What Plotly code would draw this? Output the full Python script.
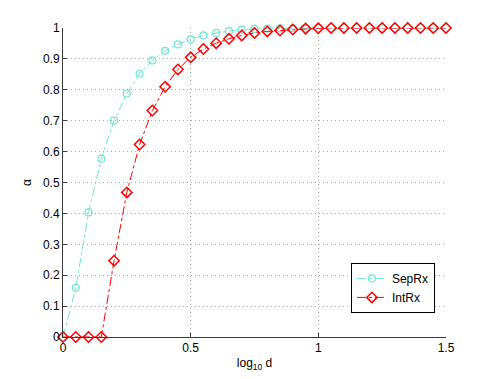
import plotly.graph_objects as go

x = [round(0.05 * i, 2) for i in range(31)]

sep_rx = [0, 0.159, 0.403, 0.577, 0.700, 0.788, 0.852, 0.895, 0.926, 0.947,
          0.963, 0.976, 0.984, 0.990, 0.995, 0.997, 0.998, 0.999, 0.999, 1.0,
          1.0, 1.0, 1.0, 1.0, 1.0, 1.0, 1.0, 1.0, 1.0, 1.0, 1.0]
int_rx = [0, 0, 0, 0, 0.247, 0.468, 0.623, 0.733, 0.810, 0.866,
          0.905, 0.932, 0.951, 0.965, 0.976, 0.984, 0.989, 0.992, 0.995, 0.998,
          0.999, 1.0, 1.0, 1.0, 1.0, 1.0, 1.0, 1.0, 1.0, 1.0, 1.0]

x_ticks = [0, 0.5, 1, 1.5]
x_labels = ["0", "0.5", "1", "1.5"]
y_ticks = [round(0.1 * i, 1) for i in range(11)]
y_labels = ["0", "0.1", "0.2", "0.3", "0.4", "0.5", "0.6", "0.7", "0.8", "0.9", "1"]

fig = go.Figure()
fig.add_scatter(x=x, y=sep_rx, name="SepRx", mode="lines+markers", cliponaxis=False,
                line=dict(color="rgb(110,230,210)", width=1, dash="dashdot"),
                marker=dict(symbol="circle-open", size=7, color="rgb(110,230,210)",
                            line=dict(width=1.2)))
fig.add_scatter(x=x, y=int_rx, name="IntRx", mode="lines+markers", cliponaxis=False,
                line=dict(color="red", width=1, dash="dashdot"),
                marker=dict(symbol="diamond-open", size=8, color="red",
                            line=dict(width=1.5)))

axis_common = dict(showgrid=True, gridcolor="rgb(170,170,170)", griddash="1px,3px",
                   gridwidth=1, zeroline=False, showline=True, linecolor="rgb(60,60,60)",
                   linewidth=1, ticks="inside", ticklen=4, tickcolor="rgb(60,60,60)",
                   mirror=False, automargin=False, tickfont=dict(size=12, color="black"))

# page body adds 8px margin, so the figure is shrunk to fit the window
fig.update_layout(
    width=483, height=371,
    margin=dict(l=55, r=45, t=20, b=42),
    paper_bgcolor="white", plot_bgcolor="white",
    font=dict(family="Liberation Sans, Arial, sans-serif", size=12, color="black"),
    xaxis=dict(range=[0, 1.5], tickvals=x_ticks, ticktext=x_labels,
               title=dict(text="log<sub>10</sub> d", standoff=4, font=dict(size=12)),
               **axis_common),
    yaxis=dict(range=[0, 1], tickvals=y_ticks, ticktext=y_labels,
               title=dict(text="α", standoff=8, font=dict(size=12)),
               **axis_common),
    legend=dict(x=0.971, y=0.078, xanchor="right", yanchor="bottom",
                bordercolor="black", borderwidth=1, bgcolor="white",
                font=dict(size=12), tracegroupgap=0),
    showlegend=True,
)

fig.write_html("out.html")
